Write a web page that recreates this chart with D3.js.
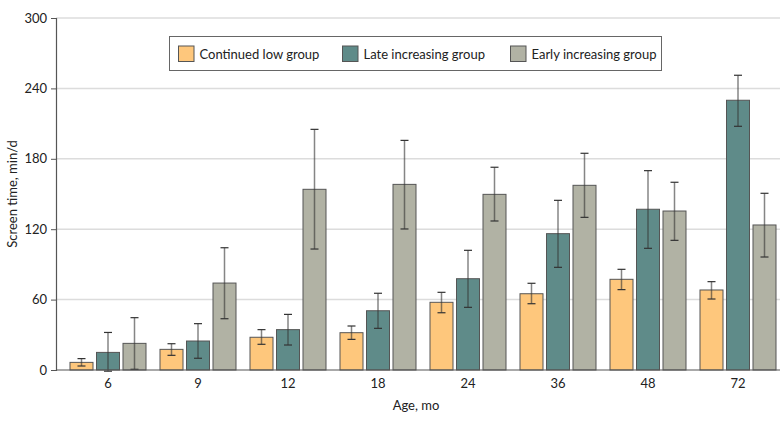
<!DOCTYPE html>
<html><head><meta charset="utf-8">
<script src="https://cdn.jsdelivr.net/npm/d3@7"></script>
<style>body{margin:0;background:#fff}svg{display:block}text{font-family:Lato,"Liberation Sans",sans-serif;fill:#222}</style>
</head><body><svg id="c" width="780" height="423"></svg>
<script>
const ages = ["6","9","12","18","24","36","48","72"];
const seriesNames = ["Continued low group","Late increasing group","Early increasing group"];
const colors = ["#FEC77C","#5F8B89","#B1B2A4"];
const lowMean = [6.5,17.6,27.9,31.8,57.7,65,77.3,68.2];
const lowLo =   [3.4,12.5,21.9,26.1,48.8,56.5,68.5,60.5];
const lowHi =   [9.7,22.4,34.4,37.5,66.2,73.9,85.8,75.3];
const lateMean = [15,24.7,34.4,50.5,77.8,116.2,137,229.9];
const lateLo =   [-1,10,21.3,35.5,53.4,87.5,103.7,207.7];
const lateHi =   [32,39.5,47.4,65.4,102,144.6,169.9,251.2];
const earlyMean = [22.7,74.1,154,158.2,149.7,157.4,135.5,123.6];
const earlyLo =   [0.6,43.7,103.1,120.2,127,130.1,110.5,96.3];
const earlyHi =   [44.6,104.2,205.1,195.7,172.8,184.7,160,150.6];
const yTicks = [0,60,120,180,240,300];

const series = [
  {mean:lowMean, lo:lowLo, hi:lowHi},
  {mean:lateMean, lo:lateLo, hi:lateHi},
  {mean:earlyMean, lo:earlyLo, hi:earlyHi}
];

const svg = d3.select("#c");
const mLeft = 56, mRight = 780, mTop = 18, mBottom = 370;
const x = d3.scaleBand().domain(ages).range([63, 783]).paddingInner(0).paddingOuter(0);
const y = d3.scaleLinear().domain([0,300]).range([mBottom, mTop]);
const barW = 23, gap = 3.5;
const offs = [-(barW+gap), 0, (barW+gap)];

// gridlines
svg.append("g").selectAll("line").data(yTicks.filter(d=>d>0)).join("line")
  .attr("x1", mLeft).attr("x2", mRight)
  .attr("y1", d=>y(d)).attr("y2", d=>y(d))
  .attr("stroke", "#dcdcdc").attr("stroke-width", 1.5);

// y axis
const yAxis = d3.axisLeft(y).tickValues(yTicks).tickSize(5).tickPadding(4);
const ga = svg.append("g").attr("transform", `translate(${mLeft},0)`).call(yAxis);
ga.select(".domain").attr("stroke","#555").attr("stroke-width",1.2);
ga.selectAll(".tick line").attr("stroke","#555");
ga.selectAll(".tick text").attr("font-size", 13).attr("font-family","Lato,'Liberation Sans',sans-serif").attr("fill","#222");

// bars
series.forEach((s, si) => {
  const g = svg.append("g");
  g.selectAll("rect").data(ages).join("rect")
    .attr("x", (d)=> x(d) + x.bandwidth()/2 + offs[si] - barW/2)
    .attr("y", (d,i)=> y(s.mean[i]))
    .attr("width", barW)
    .attr("height", (d,i)=> y(0) - y(s.mean[i]))
    .attr("fill", colors[si]).attr("stroke", "#555").attr("stroke-width", 1);
  const eg = svg.append("g");
  ages.forEach((d,i)=>{
    const cx = x(d) + x.bandwidth()/2 + offs[si];
    eg.append("line").attr("x1",cx).attr("x2",cx).attr("y1",y(s.lo[i])).attr("y2",y(s.hi[i]))
      .attr("stroke","#333").attr("stroke-opacity",0.6).attr("stroke-width",1.5);
    [s.lo[i], s.hi[i]].forEach(v=>{
      eg.append("line").attr("x1",cx-4).attr("x2",cx+4).attr("y1",y(v)).attr("y2",y(v))
        .attr("stroke","#333").attr("stroke-width",1.2);
    });
  });
});

// x baseline
svg.append("line").attr("x1",mLeft).attr("x2",mRight).attr("y1",mBottom).attr("y2",mBottom)
  .attr("stroke","#555").attr("stroke-width",1.2);

// x labels
svg.append("g").selectAll("text").data(ages).join("text")
  .attr("x", d=> x(d)+x.bandwidth()/2).attr("y", 388)
  .attr("text-anchor","middle").attr("font-size",13).text(d=>d);

svg.append("text").attr("x", 416).attr("y", 410).attr("text-anchor","middle").attr("font-size",13).text("Age, mo");
svg.append("text").attr("transform","translate(17,194) rotate(-90)").attr("text-anchor","middle").attr("font-size",13).text("Screen time, min/d");

// legend
const lg = svg.append("g");
lg.append("rect").attr("x",169.5).attr("y",36.5).attr("width",492).attr("height",34)
  .attr("fill","#fff").attr("stroke","#666").attr("stroke-width",1);
const lx = [178.5, 342.5, 510.5];
seriesNames.forEach((n,i)=>{
  lg.append("rect").attr("x",lx[i]).attr("y",46).attr("width",15.5).attr("height",15.5)
    .attr("fill",colors[i]).attr("stroke","#555").attr("stroke-width",1);
  lg.append("text").attr("x",lx[i]+21).attr("y",58.5).attr("font-size",13).text(n);
});
</script></body></html>
